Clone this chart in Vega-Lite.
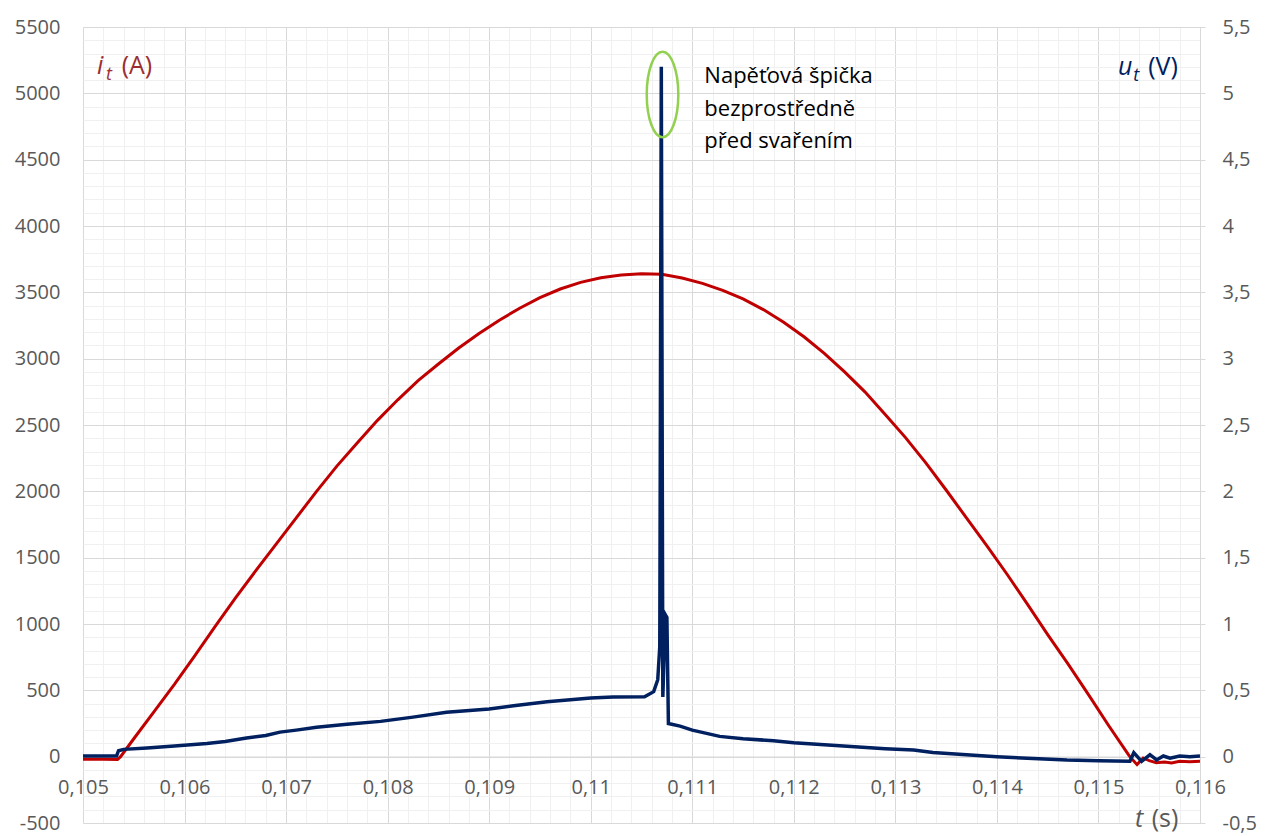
{
  "$schema": "https://vega.github.io/schema/vega-lite/v6.json",
  "width": 1117,
  "height": 796,
  "autosize": {"type": "none"},
  "padding": {"left": 83, "top": 27, "right": 74, "bottom": 13},
  "background": "white",
  "config": {
    "view": {"stroke": null},
    "font": "Open Sans",
    "axis": {"labelFont": "Open Sans", "labelFontSize": 20, "labelColor": "#595959", "title": null}
  },
  "datasets": {
    "current": [
      {"t": 0.10500, "i": -20}, {"t": 0.10520, "i": -20}, {"t": 0.10534, "i": -22}, {"t": 0.10537, "i": 0},
      {"t": 0.1055, "i": 135}, {"t": 0.1057, "i": 340}, {"t": 0.1059, "i": 545}, {"t": 0.1061, "i": 760},
      {"t": 0.1063, "i": 980}, {"t": 0.1065, "i": 1195}, {"t": 0.1067, "i": 1400}, {"t": 0.1069, "i": 1600},
      {"t": 0.1071, "i": 1800}, {"t": 0.1073, "i": 2000}, {"t": 0.1075, "i": 2190}, {"t": 0.1077, "i": 2365},
      {"t": 0.1079, "i": 2535}, {"t": 0.1081, "i": 2690}, {"t": 0.1083, "i": 2835}, {"t": 0.1085, "i": 2960},
      {"t": 0.1087, "i": 3080}, {"t": 0.1089, "i": 3190}, {"t": 0.1091, "i": 3290}, {"t": 0.1093, "i": 3380},
      {"t": 0.1095, "i": 3460}, {"t": 0.1097, "i": 3525}, {"t": 0.1099, "i": 3575}, {"t": 0.1101, "i": 3610},
      {"t": 0.1103, "i": 3630}, {"t": 0.1105, "i": 3640}, {"t": 0.1107, "i": 3636}, {"t": 0.1109, "i": 3608},
      {"t": 0.1111, "i": 3568}, {"t": 0.1113, "i": 3515}, {"t": 0.1115, "i": 3450}, {"t": 0.1117, "i": 3370},
      {"t": 0.1119, "i": 3275}, {"t": 0.1121, "i": 3165}, {"t": 0.1123, "i": 3040}, {"t": 0.1125, "i": 2900},
      {"t": 0.1127, "i": 2750}, {"t": 0.1129, "i": 2580}, {"t": 0.1131, "i": 2405}, {"t": 0.1133, "i": 2215},
      {"t": 0.1135, "i": 2010}, {"t": 0.1137, "i": 1800}, {"t": 0.1139, "i": 1590}, {"t": 0.1141, "i": 1375},
      {"t": 0.1143, "i": 1150}, {"t": 0.1145, "i": 920}, {"t": 0.1147, "i": 700}, {"t": 0.1149, "i": 470},
      {"t": 0.1151, "i": 235}, {"t": 0.1153, "i": 10}, {"t": 0.11531, "i": 0},
      {"t": 0.11538, "i": -60}, {"t": 0.11544, "i": -10}, {"t": 0.11550, "i": -30}, {"t": 0.11557, "i": -45},
      {"t": 0.11565, "i": -40}, {"t": 0.11572, "i": -48}, {"t": 0.11580, "i": -35}, {"t": 0.11590, "i": -38},
      {"t": 0.11600, "i": -35}
    ],
    "voltage": [
      {"t": 0.10500, "u": 0.005}, {"t": 0.10533, "u": 0.005}, {"t": 0.10535, "u": 0.045}, {"t": 0.10540, "u": 0.055},
      {"t": 0.10563, "u": 0.065}, {"t": 0.10590, "u": 0.08}, {"t": 0.10622, "u": 0.10}, {"t": 0.10640, "u": 0.115},
      {"t": 0.10661, "u": 0.14}, {"t": 0.10680, "u": 0.16}, {"t": 0.10694, "u": 0.185}, {"t": 0.10710, "u": 0.20},
      {"t": 0.10730, "u": 0.222}, {"t": 0.10760, "u": 0.245}, {"t": 0.10793, "u": 0.266}, {"t": 0.10825, "u": 0.298},
      {"t": 0.10858, "u": 0.334}, {"t": 0.10900, "u": 0.36}, {"t": 0.10924, "u": 0.384}, {"t": 0.10957, "u": 0.414},
      {"t": 0.11000, "u": 0.442}, {"t": 0.11022, "u": 0.45}, {"t": 0.11053, "u": 0.452}, {"t": 0.11062, "u": 0.49},
      {"t": 0.11066, "u": 0.58}, {"t": 0.11068, "u": 0.83}, {"t": 0.110695, "u": 5.2}, {"t": 0.11071, "u": 0.45},
      {"t": 0.110735, "u": 1.07}, {"t": 0.11075, "u": 1.05}, {"t": 0.110765, "u": 0.25}, {"t": 0.11088, "u": 0.23},
      {"t": 0.11100, "u": 0.20}, {"t": 0.11127, "u": 0.153}, {"t": 0.11150, "u": 0.135}, {"t": 0.11180, "u": 0.12},
      {"t": 0.11200, "u": 0.105}, {"t": 0.11230, "u": 0.09}, {"t": 0.11260, "u": 0.075}, {"t": 0.11290, "u": 0.06},
      {"t": 0.11318, "u": 0.05}, {"t": 0.11337, "u": 0.032}, {"t": 0.11370, "u": 0.015}, {"t": 0.11400, "u": 0.0},
      {"t": 0.11430, "u": -0.012}, {"t": 0.11469, "u": -0.025}, {"t": 0.11500, "u": -0.03}, {"t": 0.11531, "u": -0.035},
      {"t": 0.115348, "u": 0.03}, {"t": 0.115425, "u": -0.035}, {"t": 0.115507, "u": 0.015}, {"t": 0.115573, "u": -0.025},
      {"t": 0.115639, "u": 0.005}, {"t": 0.115705, "u": -0.012}, {"t": 0.11580, "u": 0.005}, {"t": 0.11590, "u": 0.0},
      {"t": 0.11600, "u": 0.005}
    ]
  },
  "resolve": {"scale": {"y": "independent"}, "axis": {"x": "independent", "y": "independent"}},
  "layer": [
    {
      "data": {"name": "current"},
      "mark": {"type": "line", "strokeOpacity": 0},
      "encoding": {
        "x": {"field": "t", "type": "quantitative", "scale": {"domain": [0.105, 0.116], "nice": false, "zero": false},
          "axis": {"orient": "bottom", "values": [0.1052,0.1054,0.1056,0.1058,0.1062,0.1064,0.1066,0.1068,0.1072,0.1074,0.1076,0.1078,0.1082,0.1084,0.1086,0.1088,0.1092,0.1094,0.1096,0.1098,0.1102,0.1104,0.1106,0.1108,0.1112,0.1114,0.1116,0.1118,0.1122,0.1124,0.1126,0.1128,0.1132,0.1134,0.1136,0.1138,0.1142,0.1144,0.1146,0.1148,0.1152,0.1154,0.1156,0.1158],
            "grid": true, "gridColor": "#F0F0F0", "gridWidth": 1, "labels": false, "ticks": false, "domain": false, "title": null}},
        "y": {"field": "i", "type": "quantitative", "scale": {"domain": [-500, 5500], "nice": false, "zero": false},
          "axis": {"orient": "left", "values": [-400,-300,-200,-100,100,200,300,400,600,700,800,900,1100,1200,1300,1400,1600,1700,1800,1900,2100,2200,2300,2400,2600,2700,2800,2900,3100,3200,3300,3400,3600,3700,3800,3900,4100,4200,4300,4400,4600,4700,4800,4900,5100,5200,5300,5400],
            "grid": true, "gridColor": "#F0F0F0", "gridWidth": 1, "labels": false, "ticks": false, "domain": false, "title": null}}
      }
    },
    {
      "data": {"name": "current"},
      "mark": {"type": "line", "color": "#C00000", "strokeWidth": 3},
      "encoding": {
        "x": {"field": "t", "type": "quantitative", "scale": {"domain": [0.105, 0.116], "nice": false, "zero": false},
          "axis": {"orient": "bottom", "values": [0.105,0.106,0.107,0.108,0.109,0.11,0.111,0.112,0.113,0.114,0.115,0.116],
            "grid": true, "gridColor": "#D9D9D9", "gridWidth": 1, "labels": false, "ticks": false, "domain": false, "title": null}},
        "y": {"field": "i", "type": "quantitative", "scale": {"domain": [-500, 5500], "nice": false, "zero": false},
          "axis": {"orient": "left", "values": [-500,0,500,1000,1500,2000,2500,3000,3500,4000,4500,5000,5500],
            "grid": true, "gridColor": "#D9D9D9", "gridWidth": 1, "ticks": false, "domain": false, "labelPadding": 23,
            "labelExpr": "replace(format(datum.value, 'd'), '−', '-')", "labelFlush": false, "labelOverlap": false, "title": null}}
      }
    },
    {
      "data": {"name": "voltage"},
      "mark": {"type": "line", "color": "#002060", "strokeWidth": 3.5},
      "encoding": {
        "x": {"field": "t", "type": "quantitative", "scale": {"domain": [0.105, 0.116], "nice": false, "zero": false},
          "axis": {"orient": "bottom", "values": [0.105,0.106,0.107,0.108,0.109,0.11,0.111,0.112,0.113,0.114,0.115,0.116],
            "grid": false, "offset": -66.33, "domain": true, "domainColor": "#D9D9D9", "domainWidth": 1.2, "ticks": false,
            "labelPadding": 21, "labelFlush": false, "labelOverlap": false, "labelBound": false,
            "labelExpr": "replace(format(datum.value, '.3~f'), '.', ',')", "title": null}},
        "y": {"field": "u", "type": "quantitative", "scale": {"domain": [-0.5, 5.5], "nice": false, "zero": false},
          "axis": {"orient": "right", "values": [-0.5,0,0.5,1,1.5,2,2.5,3,3.5,4,4.5,5,5.5],
            "grid": false, "ticks": true, "tickSize": 5, "tickColor": "#D9D9D9", "domain": true, "domainColor": "#D9D9D9",
            "labelPadding": 17, "labelFlush": false, "labelOverlap": false,
            "labelExpr": "replace(replace(format(datum.value, '~g'), '.', ','), '−', '-')", "title": null}}
      }
    },
    {
      "data": {"values": [{"t": 0.110707, "i": 4991}]},
      "mark": {"type": "point", "shape": "M 0 -1 A 0.369 1 0 1 1 0 1 A 0.369 1 0 1 1 0 -1 Z", "size": 7327, "filled": false, "stroke": "#92D050", "strokeWidth": 2.5, "opacity": 1},
      "encoding": {
        "x": {"field": "t", "type": "quantitative", "scale": {"domain": [0.105, 0.116], "nice": false, "zero": false}, "axis": null},
        "y": {"field": "i", "type": "quantitative", "scale": {"domain": [-500, 5500], "nice": false, "zero": false}, "axis": null}
      }
    },
    {
      "data": {"values": [{"t": 0.111119, "i": 5076, "label": "Napěťová špička\nbezprostředně\npřed svařením"}]},
      "mark": {"type": "text", "align": "left", "baseline": "alphabetic", "fontSize": 22, "lineHeight": 32.5, "lineBreak": "\n", "font": "Open Sans", "color": "#000000"},
      "encoding": {
        "x": {"field": "t", "type": "quantitative", "scale": {"domain": [0.105, 0.116], "nice": false, "zero": false}, "axis": null},
        "y": {"field": "i", "type": "quantitative", "scale": {"domain": [-500, 5500], "nice": false, "zero": false}, "axis": null},
        "text": {"field": "label"}
      }
    },
    {
      "data": {"values": [
        {"t": 0.105138, "i": 5146, "s": "i", "series": "current"},
        {"t": 0.115192, "i": 5138, "s": "u", "series": "voltage"},
        {"t": 0.115359, "i": -528, "s": "t", "series": "time"}
      ]},
      "mark": {"type": "text", "align": "left", "baseline": "alphabetic", "fontSize": 25, "fontStyle": "italic", "font": "Open Sans"},
      "encoding": {
        "x": {"field": "t", "type": "quantitative", "scale": {"domain": [0.105, 0.116], "nice": false, "zero": false}, "axis": null},
        "y": {"field": "i", "type": "quantitative", "scale": {"domain": [-500, 5500], "nice": false, "zero": false}, "axis": null},
        "text": {"field": "s"},
        "color": {"field": "series", "type": "nominal", "scale": {"domain": ["current", "voltage", "time"], "range": ["#9B2D30", "#002060", "#595959"]}, "legend": null}
      }
    },
    {
      "data": {"values": [
        {"t": 0.105226, "i": 5100, "s": "t", "series": "current"},
        {"t": 0.115343, "i": 5093, "s": "t", "series": "voltage"}
      ]},
      "mark": {"type": "text", "align": "left", "baseline": "alphabetic", "fontSize": 18, "fontStyle": "italic", "font": "Open Sans"},
      "encoding": {
        "x": {"field": "t", "type": "quantitative", "scale": {"domain": [0.105, 0.116], "nice": false, "zero": false}, "axis": null},
        "y": {"field": "i", "type": "quantitative", "scale": {"domain": [-500, 5500], "nice": false, "zero": false}, "axis": null},
        "text": {"field": "s"},
        "color": {"field": "series", "type": "nominal", "scale": {"domain": ["current", "voltage", "time"], "range": ["#9B2D30", "#002060", "#595959"]}, "legend": null}
      }
    },
    {
      "data": {"values": [
        {"t": 0.105381, "i": 5146, "s": "(A)", "series": "current"},
        {"t": 0.115490, "i": 5138, "s": "(V)", "series": "voltage"},
        {"t": 0.115524, "i": -528, "s": "(s)", "series": "time"}
      ]},
      "mark": {"type": "text", "align": "left", "baseline": "alphabetic", "fontSize": 25, "font": "Open Sans"},
      "encoding": {
        "x": {"field": "t", "type": "quantitative", "scale": {"domain": [0.105, 0.116], "nice": false, "zero": false}, "axis": null},
        "y": {"field": "i", "type": "quantitative", "scale": {"domain": [-500, 5500], "nice": false, "zero": false}, "axis": null},
        "text": {"field": "s"},
        "color": {"field": "series", "type": "nominal", "scale": {"domain": ["current", "voltage", "time"], "range": ["#9B2D30", "#002060", "#595959"]}, "legend": null}
      }
    }
  ]
}
